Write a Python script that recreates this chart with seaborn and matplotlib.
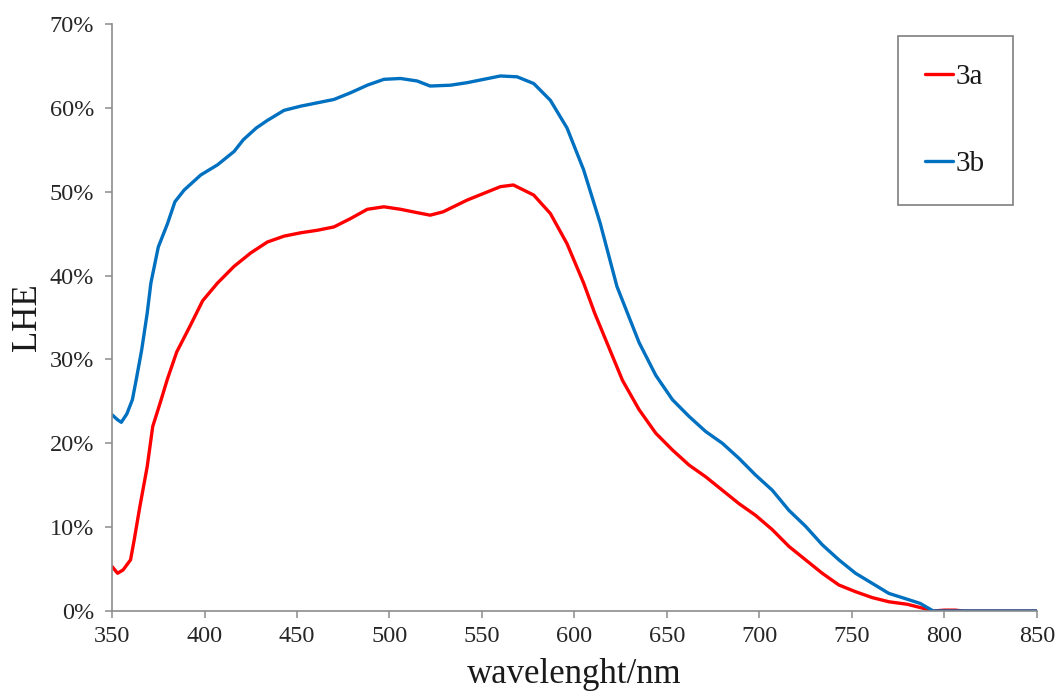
import numpy as np
import pandas as pd
import seaborn as sns
import matplotlib
matplotlib.use("Agg")
import matplotlib.pyplot as plt
from matplotlib.ticker import PercentFormatter, MultipleLocator

# ---- data ----
wl_3a = [350, 353, 356, 360, 362, 365, 369, 372, 376, 380, 385, 392, 399, 407, 416,
         425, 434, 443, 452, 461, 470, 479, 488, 497, 506, 515, 522, 529, 542, 551,
         560, 567, 578, 587, 596, 605, 611, 617, 626, 635, 644, 653, 662, 671, 680,
         689, 698, 707, 716, 725, 734, 743, 752, 761, 770, 780, 789, 794, 800, 806,
         810, 850]
lhe_3a = [5.3, 4.5, 4.9, 6.1, 8.5, 12.4, 17.2, 22.0, 24.8, 27.7, 30.9, 33.9, 37.0, 39.1, 41.1,
          42.7, 44.0, 44.7, 45.1, 45.4, 45.8, 46.8, 47.9, 48.2, 47.9, 47.5, 47.2, 47.6, 49.0, 49.8,
          50.6, 50.8, 49.6, 47.4, 43.8, 39.1, 35.5, 32.3, 27.5, 24.0, 21.2, 19.2, 17.4, 16.0, 14.4,
          12.8, 11.4, 9.7, 7.7, 6.1, 4.5, 3.1, 2.3, 1.6, 1.1, 0.8, 0.3, 0.0, 0.1, 0.1,
          0.0, 0.0]

wl_3b = [350, 353, 355, 358, 361, 363, 366, 369, 371, 375, 380, 384, 389, 398, 407,
         416, 421, 428, 434, 443, 452, 461, 470, 479, 488, 497, 506, 515, 522, 533,
         542, 551, 560, 569, 578, 587, 596, 605, 614, 623, 635, 644, 653, 662, 671,
         680, 689, 698, 707, 716, 725, 734, 743, 752, 761, 770, 780, 787, 794, 850]
lhe_3b = [23.4, 22.8, 22.5, 23.5, 25.2, 27.5, 31.1, 35.5, 39.1, 43.4, 46.2, 48.8, 50.2, 52.0, 53.2,
          54.8, 56.2, 57.6, 58.5, 59.7, 60.2, 60.6, 61.0, 61.8, 62.7, 63.4, 63.5, 63.2, 62.6, 62.7,
          63.0, 63.4, 63.8, 63.7, 62.9, 60.9, 57.6, 52.6, 46.2, 38.7, 32.0, 28.1, 25.2, 23.2, 21.4,
          20.0, 18.2, 16.2, 14.4, 12.0, 10.1, 7.9, 6.1, 4.5, 3.3, 2.1, 1.4, 0.9, 0.0, 0.0]

series_names = ["3a", "3b"]
series_colors = ["#FF0000", "#0070C0"]
x_ticks = list(range(350, 851, 50))

df = pd.concat([
    pd.DataFrame({"wavelength": wl_3a, "LHE": lhe_3a, "sample": "3a"}),
    pd.DataFrame({"wavelength": wl_3b, "LHE": lhe_3b, "sample": "3b"}),
], ignore_index=True)

sns.set_theme(style="white")
plt.rcParams["font.family"] = ["Liberation Serif", "DejaVu Serif"]

fig = plt.figure(figsize=(10.59, 6.97), dpi=100)
ax = fig.add_axes([0.1058, 0.1234, 0.979 - 0.1058, 0.9656 - 0.1234])

sns.lineplot(data=df, x="wavelength", y="LHE", hue="sample", hue_order=series_names,
             palette=dict(zip(series_names, series_colors)), estimator=None,
             linewidth=2.4, ax=ax)

ax.set_xlim(350, 850)
ax.set_ylim(0, 70)
ax.set_xticks(x_ticks)
ax.yaxis.set_major_locator(MultipleLocator(10))
ax.yaxis.set_major_formatter(PercentFormatter(decimals=0))

for s in ["top", "right"]:
    ax.spines[s].set_visible(False)
for s in ["left", "bottom"]:
    ax.spines[s].set_color("#8c8c8c")
    ax.spines[s].set_linewidth(1.2)

ax.tick_params(axis="both", which="major", direction="out", length=5, width=1.1,
               color="#8c8c8c", labelsize=17.5, labelcolor="#262626",
               bottom=True, left=True)
ax.tick_params(axis="y", pad=8)
ax.tick_params(axis="x", pad=6)
ax.set_xlabel("wavelenght/nm", fontsize=25, color="#1a1a1a", labelpad=8)
ax.set_ylabel("LHE", fontsize=25, color="#1a1a1a", labelpad=4)

leg = ax.legend(loc="upper left", bbox_to_anchor=(0.8477, 0.9488),
                bbox_transform=fig.transFigure, fontsize=21, frameon=True,
                fancybox=False, framealpha=1, edgecolor="#7f7f7f",
                handlelength=0.95, handletextpad=0.1, labelspacing=2.1,
                borderpad=0.95, borderaxespad=0, title=None)
leg.get_frame().set_linewidth(1.2)
for t in leg.get_texts():
    t.set_color("#1a1a1a")

fig.savefig("out.png", dpi=100)
